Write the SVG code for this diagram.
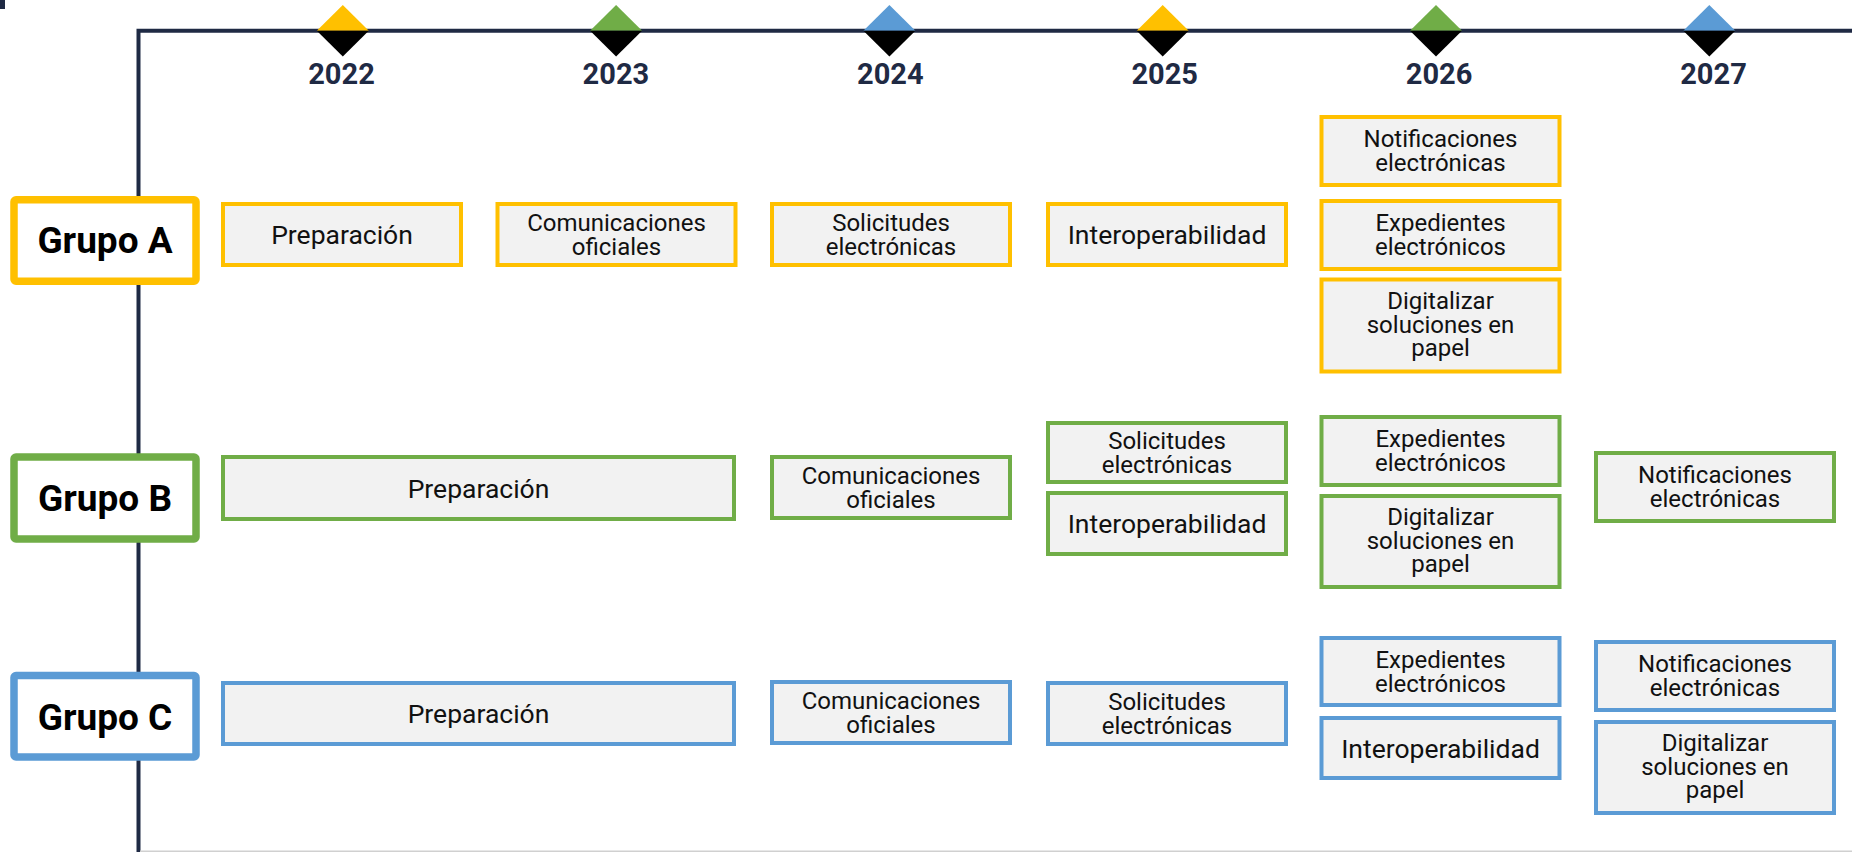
<svg xmlns="http://www.w3.org/2000/svg" xmlns:xlink="http://www.w3.org/1999/xlink" width="1852" height="852" viewBox="0 0 1852 852">
<style>
  .axis{fill:none;stroke:#1f2a44;stroke-width:4}
  .base{fill:none;stroke:#d0d0d0;stroke-width:1.5}
  .yr{font-family:Roboto,"Liberation Sans",sans-serif;font-weight:bold;font-size:29px;fill:#1f2a44;text-anchor:middle}
  .grp rect{fill:#ffffff;stroke-width:7.5}
  .grp text{font-family:Roboto,"Liberation Sans",sans-serif;font-weight:bold;font-size:37px;fill:#000;text-anchor:middle}
  .box rect{fill:#f2f2f2;stroke-width:4}
  .box text{font-family:Roboto,"Liberation Sans",sans-serif;font-size:24px;fill:#111;text-anchor:middle}
  .box text.one{font-size:26.5px}
  .ga rect{stroke:#ffc000}
  .gb rect{stroke:#70ad47}
  .gc rect{stroke:#5b9bd5}
  .fa{fill:#ffc000}.fb{fill:#70ad47}.fc{fill:#5b9bd5}.fk{fill:#000}
</style>
<defs>
  <path id="dtop" d="M-26,30.8 L0,5 L26,30.8 Z"/>
  <path id="dbot" d="M-26,30.8 L0,56.5 L26,30.8 Z"/>
</defs>
<rect x="0" y="0" width="5" height="9" fill="#1f2a44"/>
<g id="timeline">
  <path class="axis" d="M138.5,852 V30.8 H1852"/>
  <line class="base" x1="140" y1="851.2" x2="1852" y2="851.2"/>
</g>
<g id="years">
  <g id="y2022"><use href="#dtop" x="342.8" class="fa"/><use href="#dbot" x="342.8" class="fk"/><text class="yr" x="341.5" y="84">2022</text></g>
  <g id="y2023"><use href="#dtop" x="616.1" class="fb"/><use href="#dbot" x="616.1" class="fk"/><text class="yr" x="615.9" y="84">2023</text></g>
  <g id="y2024"><use href="#dtop" x="889.4" class="fc"/><use href="#dbot" x="889.4" class="fk"/><text class="yr" x="890.3" y="84">2024</text></g>
  <g id="y2025"><use href="#dtop" x="1162.7" class="fa"/><use href="#dbot" x="1162.7" class="fk"/><text class="yr" x="1164.7" y="84">2025</text></g>
  <g id="y2026"><use href="#dtop" x="1436" class="fb"/><use href="#dbot" x="1436" class="fk"/><text class="yr" x="1439.1" y="84">2026</text></g>
  <g id="y2027"><use href="#dtop" x="1709.3" class="fc"/><use href="#dbot" x="1709.3" class="fk"/><text class="yr" x="1713.5" y="84">2027</text></g>
</g>
<g id="grupoA" class="grp ga"><rect x="14" y="199.75" width="182" height="81.5" rx="2"/><text x="105" y="253">Grupo A</text></g>
<g id="grupoB" class="grp gb"><rect x="14" y="457" width="182" height="82" rx="2"/><text x="105" y="511">Grupo B</text></g>
<g id="grupoC" class="grp gc"><rect x="14" y="675.5" width="182" height="81.5" rx="2"/><text x="105" y="729.5">Grupo C</text></g>

<g id="a-prep" class="box ga"><rect x="223" y="204" width="238" height="61"/><text class="one" x="342" y="244">Preparación</text></g>
<g id="a-com" class="box ga"><rect x="497.5" y="204" width="238" height="61"/><text><tspan x="616.5" y="230.5">Comunicaciones</tspan><tspan x="616.5" y="254.5">oficiales</tspan></text></g>
<g id="a-sol" class="box ga"><rect x="772" y="204" width="238" height="61"/><text><tspan x="891" y="230.5">Solicitudes</tspan><tspan x="891" y="254.5">electrónicas</tspan></text></g>
<g id="a-int" class="box ga"><rect x="1048" y="204" width="238" height="61"/><text class="one" x="1167" y="244">Interoperabilidad</text></g>
<g id="a-not" class="box ga"><rect x="1321.5" y="117" width="238" height="68"/><text><tspan x="1440.5" y="147">Notificaciones</tspan><tspan x="1440.5" y="171">electrónicas</tspan></text></g>
<g id="a-exp" class="box ga"><rect x="1321.5" y="201" width="238" height="68"/><text><tspan x="1440.5" y="231">Expedientes</tspan><tspan x="1440.5" y="255">electrónicos</tspan></text></g>
<g id="a-dig" class="box ga"><rect x="1321.5" y="279.5" width="238" height="92"/><text><tspan x="1440.5" y="309">Digitalizar</tspan><tspan x="1440.5" y="332.5">soluciones en</tspan><tspan x="1440.5" y="356">papel</tspan></text></g>

<g id="b-prep" class="box gb"><rect x="223" y="457" width="511" height="62"/><text class="one" x="478.5" y="497.5">Preparación</text></g>
<g id="b-com" class="box gb"><rect x="772" y="457" width="238" height="61"/><text><tspan x="891" y="483.5">Comunicaciones</tspan><tspan x="891" y="507.5">oficiales</tspan></text></g>
<g id="b-sol" class="box gb"><rect x="1048" y="423" width="238" height="59"/><text><tspan x="1167" y="448.5">Solicitudes</tspan><tspan x="1167" y="472.5">electrónicas</tspan></text></g>
<g id="b-int" class="box gb"><rect x="1048" y="493" width="238" height="61"/><text class="one" x="1167" y="533">Interoperabilidad</text></g>
<g id="b-exp" class="box gb"><rect x="1321.5" y="417" width="238" height="68"/><text><tspan x="1440.5" y="447">Expedientes</tspan><tspan x="1440.5" y="471">electrónicos</tspan></text></g>
<g id="b-dig" class="box gb"><rect x="1321.5" y="496" width="238" height="91"/><text><tspan x="1440.5" y="525">Digitalizar</tspan><tspan x="1440.5" y="548.5">soluciones en</tspan><tspan x="1440.5" y="572">papel</tspan></text></g>
<g id="b-not" class="box gb"><rect x="1596" y="453" width="238" height="68"/><text><tspan x="1715" y="483">Notificaciones</tspan><tspan x="1715" y="507">electrónicas</tspan></text></g>

<g id="c-prep" class="box gc"><rect x="223" y="683" width="511" height="61"/><text class="one" x="478.5" y="723">Preparación</text></g>
<g id="c-com" class="box gc"><rect x="772" y="682" width="238" height="61"/><text><tspan x="891" y="708.5">Comunicaciones</tspan><tspan x="891" y="732.5">oficiales</tspan></text></g>
<g id="c-sol" class="box gc"><rect x="1048" y="683" width="238" height="61"/><text><tspan x="1167" y="709.5">Solicitudes</tspan><tspan x="1167" y="733.5">electrónicas</tspan></text></g>
<g id="c-exp" class="box gc"><rect x="1321.5" y="638" width="238" height="67"/><text><tspan x="1440.5" y="667.5">Expedientes</tspan><tspan x="1440.5" y="691.5">electrónicos</tspan></text></g>
<g id="c-int" class="box gc"><rect x="1321.5" y="718" width="238" height="60"/><text class="one" x="1440.5" y="757.5">Interoperabilidad</text></g>
<g id="c-not" class="box gc"><rect x="1596" y="642" width="238" height="68"/><text><tspan x="1715" y="672">Notificaciones</tspan><tspan x="1715" y="696">electrónicas</tspan></text></g>
<g id="c-dig" class="box gc"><rect x="1596" y="722" width="238" height="91"/><text><tspan x="1715" y="751">Digitalizar</tspan><tspan x="1715" y="774.5">soluciones en</tspan><tspan x="1715" y="798">papel</tspan></text></g>
</svg>
